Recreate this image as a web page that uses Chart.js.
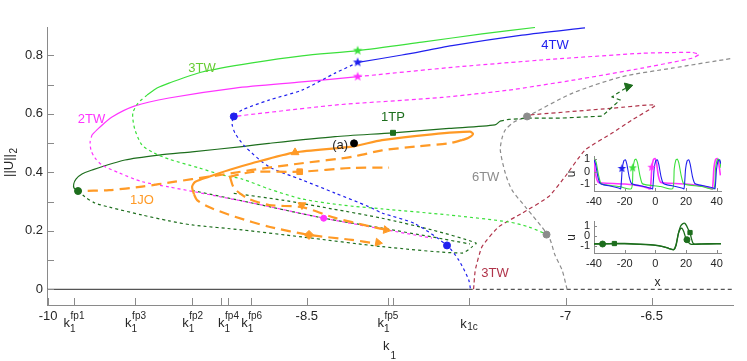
<!DOCTYPE html>
<html>
<head>
<meta charset="utf-8">
<script src="https://cdn.jsdelivr.net/npm/chart.js@4.4.1/dist/chart.umd.min.js"></script>
<style>
  body { margin: 0; background: #fff; }
  #wrap { position: relative; width: 747px; height: 361px; }
  #wrap canvas { position: absolute; }
</style>
</head>
<body>
<div id="wrap">
  <canvas id="main" width="747" height="361" style="left:0;top:0"></canvas>
  <canvas id="ins1" width="180" height="64" style="left:560px;top:146px"></canvas>
  <canvas id="ins2" width="180" height="80" style="left:560px;top:211px"></canvas>
</div>
<script>
// ---- main diagram data (k1, ||U||2) ----
// 3TW (green)
const tw3StabK = [-9.426, -9.368, -9.299, -9.107, -8.817, -8.528, -8.203, -7.832, -7.484, -7.177];
const tw3StabN = [0.664, 0.688, 0.705, 0.743, 0.774, 0.798, 0.816, 0.845, 0.873, 0.895];
const tw3UnstK = [-9.426, -9.478, -9.507, -9.509, -9.496, -9.455, -9.386, -9.299, -9.125, -8.991, -8.875, -8.719, -8.528, -8.296, -8.064, -7.675, -7.328, -7.212, -7.113];
const tw3UnstN = [0.664, 0.637, 0.606, 0.586, 0.545, 0.493, 0.466, 0.445, 0.415, 0.391, 0.377, 0.343, 0.309, 0.288, 0.275, 0.254, 0.230, 0.213, 0.189];
// 2TW (magenta)
const tw2StabK = [-9.745, -9.706, -9.629, -9.496, -9.299, -8.916, -8.528, -8.203];
const tw2StabN = [0.528, 0.551, 0.589, 0.627, 0.654, 0.688, 0.709, 0.727];
const tw2LowK = [-9.745, -9.756, -9.751, -9.728, -9.687, -9.588, -9.455, -9.299, -9.148, -8.817, -8.400, -8.064, -7.774];
const tw2LowN = [0.528, 0.504, 0.476, 0.449, 0.425, 0.398, 0.368, 0.350, 0.333, 0.295, 0.243, 0.206, 0.175];
const tw2UpK = [-8.203, -7.658, -7.136, -6.557, -6.267, -6.226, -6.267, -6.557, -6.945, -7.328, -7.716, -8.336, -8.923];
const tw2UpN = [0.727, 0.759, 0.784, 0.807, 0.810, 0.803, 0.790, 0.756, 0.716, 0.681, 0.656, 0.630, 0.591];
// 4TW (blue)
const tw4StabK = [-8.203, -7.948, -7.658, -7.252, -6.887];
const tw4StabN = [0.776, 0.801, 0.833, 0.869, 0.894];
const tw4UnstK = [-8.203, -8.336, -8.528, -8.719, -8.875, -8.923, -8.933, -8.916, -8.858, -8.719, -8.528, -8.336, -8.139, -8.064, -7.872, -7.687, -7.619, -7.561, -7.551];
const tw4UnstN = [0.776, 0.739, 0.681, 0.647, 0.613, 0.591, 0.565, 0.534, 0.488, 0.419, 0.374, 0.329, 0.282, 0.261, 0.224, 0.150, 0.100, 0.032, 0];
// 1TP (dark green)
const tp1StabK = [-9.826, -9.849, -9.851, -9.838, -9.803, -9.745, -9.554, -9.357, -9.165, -8.875, -8.719, -8.336, -8.000, -7.675, -7.409, -7.380];
const tp1StabN = [0.336, 0.346, 0.360, 0.377, 0.394, 0.408, 0.442, 0.459, 0.470, 0.488, 0.499, 0.522, 0.535, 0.550, 0.562, 0.575];
const tp1RightK = [-7.380, -7.328, -7.223, -7.038, -6.788, -6.730, -6.684, -6.730, -6.684, -6.649];
const tp1RightN = [0.575, 0.581, 0.585, 0.585, 0.592, 0.623, 0.647, 0.658, 0.676, 0.688];
const tp1LowK = [-9.826, -9.786, -9.728, -9.646, -9.455, -9.299, -9.165, -8.875, -8.528, -8.064, -7.600, -7.542, -7.519, -7.774, -8.064, -8.354, -8.643, -8.933];
const tp1LowN = [0.336, 0.316, 0.295, 0.281, 0.254, 0.234, 0.220, 0.203, 0.179, 0.146, 0.124, 0.145, 0.158, 0.203, 0.243, 0.275, 0.305, 0.329];
const tp1MidK = [-9.165, -8.817, -8.400, -8.064, -7.774, -7.554];
const tp1MidN = [0.338, 0.295, 0.243, 0.209, 0.179, 0.155];
// 3TW (dark red) and 6TW (grey)
const tw3rK = [-7.533, -7.523, -7.484, -7.387, -7.252, -7.097, -7.003, -6.887, -6.730, -6.614, -6.479, -6.730, -7.213];
const tw3rN = [0, 0.066, 0.146, 0.214, 0.260, 0.317, 0.385, 0.476, 0.534, 0.579, 0.630, 0.619, 0.596];
const tw6K = [-6.991, -7.020, -7.061, -7.097, -7.233, -7.310, -7.349, -7.378, -7.368, -7.349, -7.299, -7.223, -6.962, -6.672, -6.383, -6.030];
const tw6N = [0, 0.066, 0.117, 0.180, 0.282, 0.339, 0.397, 0.476, 0.517, 0.545, 0.572, 0.591, 0.670, 0.727, 0.756, 0.790];
// 1JO (orange)
const joSolidK = [-9.154, -9.165, -9.148, -9.067, -8.951, -8.817, -8.568, -8.238, -8.064, -7.774, -7.554, -7.536, -7.565, -7.600];
const joSolidN = [0.325, 0.350, 0.367, 0.385, 0.408, 0.431, 0.468, 0.488, 0.510, 0.530, 0.539, 0.531, 0.517, 0.510];
const joUpK = [-7.600, -7.677, -7.872, -8.064, -8.238, -8.528, -8.817, -9.067, -9.264, -9.455, -9.646, -9.826];
const joUpN = [0.510, 0.499, 0.488, 0.475, 0.453, 0.431, 0.408, 0.385, 0.368, 0.351, 0.339, 0.336];
const joMidK = [-8.951, -8.817, -8.539, -8.238, -8.023];
const joMidN = [0.384, 0.401, 0.402, 0.415, 0.416];
const joLow1K = [-9.154, -9.136, -9.067, -8.916, -8.719, -8.487, -8.238, -8.104];
const joLow1N = [0.325, 0.305, 0.281, 0.248, 0.214, 0.186, 0.169, 0.157];
const joLow2K = [-8.945, -8.922, -8.846, -8.719, -8.528, -8.336, -8.139, -8.035];
const joLow2N = [0.384, 0.346, 0.312, 0.288, 0.281, 0.244, 0.216, 0.203];
// trivial state
const zeroSolidK = [-10.006, -7.561];
const zeroDashK = [-7.561, -6.029];

// axis ticks
const xNumTicks = [-10, -8.5, -7, -6.5];
const xPlainTicks = [-8.997, -8.002];
const kTickPos = [-9.851, -9.494, -9.163, -8.955, -8.821, -8.031];
const kTickSup = ['fp1', 'fp3', 'fp2', 'fp4', 'fp6', 'fp5'];
const k1cPos = -7.561;
const yTickVals = [0, 0.1, 0.2, 0.3, 0.4, 0.5, 0.6, 0.7, 0.8];
const yTickText = ['0', '', '0.2', '', '0.4', '', '0.6', '', '0.8'];

// curve labels
const labelText = ['3TW', '2TW', '4TW', '1TP', '1JO', '6TW', '3TW', '(a)'];
const labelK = [-9.107, -9.748, -7.061, -8.000, -9.455, -7.463, -7.409, -8.306];
const labelN = [0.756, 0.582, 0.833, 0.588, 0.305, 0.383, 0.055, 0.493];

// ---- inset data (x, u) ----
const ins1BlueX = [-40, -39, -37.5, -36, -34, -28, -24, -22.6, -21.6, -20.6, -19.6, -18.6, -17.1, -15.6, -13.6, -7.6, -3.6, -1.8, -0.8, 0.2, 1.2, 2.2, 3.7, 5.2, 7.2, 13.2, 17.2, 18.7, 19.7, 20.7, 21.7, 22.7, 24.2, 25.7, 27.7, 33.7, 37.7, 38.9, 39.9, 40.9, 41.9, 42.8];
const ins1BlueU = [0.95, 0.6, -0.4, -0.95, -1.05, -1.2, -1.32, -1.38, 0.2, 0.85, 0.95, 0.6, -0.4, -0.95, -1.05, -1.2, -1.32, -1.38, 0.2, 0.85, 0.95, 0.6, -0.4, -0.95, -1.05, -1.2, -1.32, -1.38, 0.2, 0.85, 0.95, 0.6, -0.4, -0.95, -1.05, -1.2, -1.32, -1.38, 0.2, 0.85, 0.95, 0.6];
const ins1GreenX = [-40, -39.5, -38.5, -37, -35.5, -33.5, -23.5, -15.6, -14.6, -13.6, -12.6, -11.6, -10.1, -8.6, -6.6, 3.4, 11.3, 12.3, 13.3, 14.3, 15.3, 16.8, 18.3, 20.3, 30.3, 38.2, 39.2, 40.2, 41.2, 42.2, 42.8];
const ins1GreenU = [0.95, 1.0, 0.7, -0.3, -0.95, -1.05, -1.2, -1.38, 0.2, 0.9, 1.0, 0.7, -0.3, -0.95, -1.05, -1.2, -1.38, 0.2, 0.9, 1.0, 0.7, -0.3, -0.95, -1.05, -1.2, -1.38, 0.2, 0.9, 1.0, 0.7, 0.3];
const ins1MagX = [-40, -38.8, -37.3, -34.3, -20, -10, -5.3, -3.3, -2.3, -1.3, -0.3, 0.7, 1.9, 3.4, 6.4, 20, 30, 35.2, 37.2, 38.2, 39.2, 40.2, 41.2, 42.4];
const ins1MagU = [0.75, -0.3, -0.85, -0.92, -1.0, -1.15, -1.3, -1.38, 0.3, 0.95, 1.05, 0.75, -0.3, -0.85, -0.92, -1.0, -1.15, -1.3, -1.38, 0.3, 0.95, 1.05, 0.75, -0.3];
const ins2AX = [-40, -30, -20, -10, 0, 5, 9, 12, 13.5, 15, 16.5, 18, 19.2, 20.3, 21.5, 22.6, 23.5, 24.5, 26, 30, 40, 42.8];
const ins2AU = [-0.82, -0.8, -0.78, -0.85, -0.95, -1.1, -1.3, -1.42, -1.0, 0.2, 0.95, 1.2, 1.22, 1.0, 0.6, 0.3, -0.3, -0.75, -0.85, -0.83, -0.8, -0.8];
const ins2BX = [-40, -30, -20, -10, 0, 5, 9, 12, 13.5, 15, 16.2, 17.2, 18.5, 19.5, 20.6, 22, 23.5, 25, 30, 40, 42.8];
const ins2BU = [-0.86, -0.84, -0.83, -0.88, -0.98, -1.12, -1.3, -1.4, -0.9, 0.2, 0.65, 0.75, 0.4, -0.1, -0.42, -0.75, -0.88, -0.88, -0.86, -0.84, -0.84];
const insXTicks = [-40, -20, 0, 20, 40];
const insYTicks = [-1, 0, 1];

// colours
const GREEN = '#3be03b', MAG = '#ff33ff', BLUE = '#2020ee', DKGREEN = '#1d6e1d';
const ORANGE = '#ff9a26', DKRED = '#b0344a', GREY = '#8c8c8c';
const FONT = "'Liberation Sans', Arial, Helvetica, sans-serif";
const TXT = '#262626', AXIS = '#8a8a8a';

const pts = (xs, ys) => xs.map((x, i) => ({ x: x, y: ys[i] }));

function curve(xs, ys, color, dash, width, tension) {
  return {
    data: pts(xs, ys), showLine: true, borderColor: color, backgroundColor: color,
    borderWidth: width || 1, borderDash: dash || [], pointRadius: 0,
    tension: tension === undefined ? 0.25 : tension, fill: false
  };
}

function marker(x, y, color, style, radius, rotation) {
  return {
    data: [{ x: x, y: y }], showLine: false, pointStyle: style || 'circle',
    pointRadius: radius || 3.5, pointRotation: rotation || 0,
    backgroundColor: color, borderColor: color, borderWidth: 1
  };
}

// filled five-point star as point image
function starImg(color, r) {
  const c = document.createElement('canvas');
  const s = Math.ceil(r * 2 + 2);
  c.width = s; c.height = s;
  const g = c.getContext('2d');
  g.fillStyle = color;
  g.beginPath();
  for (let i = 0; i < 10; i++) {
    const a = -Math.PI / 2 + i * Math.PI / 5;
    const rr = i % 2 ? r * 0.42 : r;
    g.lineTo(s / 2 + rr * Math.cos(a), s / 2 + rr * Math.sin(a));
  }
  g.closePath();
  g.fill();
  return c;
}

// ticks drawn inside the axes
const inwardTicks = {
  id: 'inwardTicks',
  afterDraw(chart, args, opts) {
    const { ctx, chartArea: a, scales } = chart;
    ctx.save();
    ctx.strokeStyle = AXIS;
    ctx.lineWidth = 1;
    ctx.beginPath();
    scales.x.ticks.forEach(t => {
      const p = Math.round(scales.x.getPixelForValue(t.value)) + 0.5;
      ctx.moveTo(p, a.bottom); ctx.lineTo(p, a.bottom - opts.len);
    });
    scales.y.ticks.forEach(t => {
      const p = Math.round(scales.y.getPixelForValue(t.value)) + 0.5;
      ctx.moveTo(a.left, p); ctx.lineTo(a.left + opts.len, p);
    });
    ctx.stroke();
    ctx.restore();
  }
};

// text drawn on the main diagram: curve names, k1 tick labels, axis titles
const mainText = {
  id: 'mainText',
  afterDraw(chart) {
    const { ctx, scales } = chart;
    const xs = scales.x, ys = scales.y;
    ctx.save();
    const labelColor = [ '#66cc33', MAG, BLUE, DKGREEN, ORANGE, GREY, DKRED, TXT ];
    ctx.font = '13px ' + FONT;
    ctx.textAlign = 'center';
    ctx.textBaseline = 'middle';
    labelText.forEach((t, i) => {
      ctx.fillStyle = labelColor[i];
      ctx.fillText(t, xs.getPixelForValue(labelK[i]), ys.getPixelForValue(labelN[i]));
    });

    ctx.fillStyle = TXT;
    ctx.textBaseline = 'alphabetic';
    ctx.textAlign = 'left';
    kTickPos.forEach((v, i) => {
      const px = xs.getPixelForValue(v);
      ctx.font = '13px ' + FONT;
      const kw = ctx.measureText('k').width;
      ctx.font = '10px ' + FONT;
      const sw = ctx.measureText(kTickSup[i]).width;
      const x0 = px - (kw + sw) / 2;
      ctx.font = '13px ' + FONT;
      ctx.fillText('k', x0, 326.5);
      ctx.font = '10px ' + FONT;
      ctx.fillText(kTickSup[i], x0 + kw + 0.5, 318.5);
      ctx.fillText('1', x0 + kw, 331.5);
    });
    // k_1c
    {
      const px = xs.getPixelForValue(k1cPos);
      ctx.font = '13px ' + FONT;
      const kw = ctx.measureText('k').width;
      ctx.font = '10px ' + FONT;
      const sw = ctx.measureText('1c').width;
      const x0 = px - (kw + sw) / 2;
      ctx.font = '13px ' + FONT;
      ctx.fillText('k', x0, 327.5);
      ctx.font = '10px ' + FONT;
      ctx.fillText('1c', x0 + kw + 0.5, 330);
    }
    // x title
    ctx.font = '13px ' + FONT;
    ctx.fillText('k', 383, 349.5);
    ctx.font = '10px ' + FONT;
    ctx.fillText('1', 390.5, 358.5);
    // y title
    ctx.translate(12.5, 177);
    ctx.rotate(-Math.PI / 2);
    ctx.font = '13px ' + FONT;
    ctx.fillText('||U||', 0, 0);
    const w = ctx.measureText('||U||').width;
    ctx.font = '10px ' + FONT;
    ctx.fillText('2', w + 0.5, 4.5);
    ctx.restore();
  }
};

const datasets = [
  // markers on top
  marker(-8.205, 0.816, GREEN, starImg(GREEN, 5)),
  marker(-8.205, 0.776, BLUE, starImg(BLUE, 5)),
  marker(-8.205, 0.727, MAG, starImg(MAG, 5)),
  marker(-8.923, 0.591, BLUE, 'circle', 3.5),
  marker(-7.687, 0.150, BLUE, 'circle', 3.5),
  marker(-8.402, 0.243, MAG, 'circle', 3),
  marker(-7.223, 0.591, GREY, 'circle', 3.5),
  marker(-7.110, 0.187, GREY, 'circle', 3.5),
  marker(-9.826, 0.336, DKGREEN, 'circle', 3.5),
  marker(-8.000, 0.535, DKGREEN, 'rect', 3.5),
  marker(-6.638, 0.693, DKGREEN, 'triangle', 5, 75),
  marker(-8.226, 0.499, '#000000', 'circle', 3.5),
  marker(-8.568, 0.468, ORANGE, 'triangle', 4.5),
  marker(-8.541, 0.402, ORANGE, 'rect', 4),
  marker(-8.528, 0.288, ORANGE, 'triangle', 4.5, 180),
  marker(-8.487, 0.186, ORANGE, 'rectRot', 4.5),
  marker(-8.087, 0.160, ORANGE, 'triangle', 4.5, 100),
  marker(-8.040, 0.203, ORANGE, 'triangle', 4.5, 100),
  // branches
  curve(joSolidK, joSolidN, ORANGE, [], 2.2),
  curve(joUpK, joUpN, ORANGE, [10, 6], 2.2),
  curve(joMidK, joMidN, ORANGE, [10, 6], 2.2),
  curve(joLow1K, joLow1N, ORANGE, [10, 6], 2.2),
  curve(joLow2K, joLow2N, ORANGE, [10, 6], 2.2),
  curve(tw3StabK, tw3StabN, GREEN, [], 1.2),
  curve(tw3UnstK, tw3UnstN, GREEN, [3, 3], 1.2),
  curve(tw4StabK, tw4StabN, BLUE, [], 1.2),
  curve(tw4UnstK, tw4UnstN, BLUE, [3, 3], 1.2),
  curve(tw2StabK, tw2StabN, MAG, [], 1.2),
  curve(tw2LowK, tw2LowN, MAG, [3, 3], 1.2),
  curve(tw2UpK, tw2UpN, MAG, [4, 3], 1.2, 0.15),
  curve(tp1StabK, tp1StabN, DKGREEN, [], 1.2),
  curve(tp1RightK, tp1RightN, DKGREEN, [4, 3], 1.2, 0),
  curve(tp1LowK, tp1LowN, DKGREEN, [3, 3], 1.2),
  curve(tp1MidK, tp1MidN, DKGREEN, [3, 3], 1.2),
  curve(tw3rK, tw3rN, DKRED, [4, 3], 1.2, 0.15),
  curve(tw6K, tw6N, GREY, [4, 3], 1.2),
  curve(zeroSolidK, [0, 0], '#555555', [], 1.2, 0),
  curve(zeroDashK, [0, 0], '#555555', [4, 3], 1.2, 0)
];

new Chart(document.getElementById('main'), {
  type: 'scatter',
  data: { datasets: datasets },
  options: {
    responsive: false,
    animation: false,
    events: [],
    layout: { padding: { top: 27, right: 14, left: 0, bottom: 0 } },
    plugins: { legend: { display: false }, tooltip: { enabled: false }, inwardTicks: { len: 7 } },
    scales: {
      x: {
        type: 'linear', min: -10.006, max: -6.029,
        afterFit(s) { s.height = 56; },
        afterBuildTicks(s) {
          s.ticks = xNumTicks.concat(xPlainTicks, kTickPos, [k1cPos]).map(v => ({ value: v }));
        },
        ticks: {
          autoSkip: false, maxRotation: 0, padding: 4, color: TXT,
          font: { family: FONT, size: 13 },
          callback(v) { return xNumTicks.includes(v) ? String(v) : ''; }
        },
        grid: { display: false, drawTicks: false },
        border: { display: true, color: AXIS, width: 1 }
      },
      y: {
        type: 'linear', min: -0.0537, max: 0.8968,
        afterFit(s) { s.width = 47; },
        afterBuildTicks(s) { s.ticks = yTickVals.map(v => ({ value: v })); },
        ticks: {
          autoSkip: false, padding: 4, color: TXT,
          font: { family: FONT, size: 13 },
          callback(v) { const i = yTickVals.findIndex(t => Math.abs(t - v) < 1e-6); return i >= 0 ? yTickText[i] : ''; }
        },
        grid: { display: false, drawTicks: false },
        border: { display: true, color: AXIS, width: 1 }
      }
    }
  },
  plugins: [inwardTicks, mainText]
});

// ---- insets ----
function insetText(showX) {
  return {
    id: 'insetText',
    afterDraw(chart) {
      const { ctx, chartArea: a } = chart;
      ctx.save();
      ctx.fillStyle = TXT;
      ctx.font = '12px ' + FONT;
      ctx.textAlign = 'center';
      ctx.textBaseline = 'middle';
      if (showX) ctx.fillText('x', (a.left + a.right) / 2, 72);
      ctx.translate(11.5, (a.top + a.bottom) / 2);
      ctx.rotate(-Math.PI / 2);
      ctx.fillText('u', 0, 0);
      ctx.restore();
    }
  };
}

function insetOptions(yMin, yMax, padTop, xHeight) {
  return {
    responsive: false,
    animation: false,
    events: [],
    layout: { padding: { top: padTop, right: 19, left: 0, bottom: 0 } },
    plugins: { legend: { display: false }, tooltip: { enabled: false }, inwardTicks: { len: 3 } },
    scales: {
      x: {
        type: 'linear', min: -40, max: 42.8,
        afterFit(s) { s.height = xHeight; },
        afterBuildTicks(s) { s.ticks = insXTicks.map(v => ({ value: v })); },
        ticks: { autoSkip: false, maxRotation: 0, padding: 4, color: TXT, font: { family: FONT, size: 11 } },
        grid: { display: false, drawTicks: false },
        border: { display: true, color: AXIS, width: 1 }
      },
      y: {
        type: 'linear', min: yMin, max: yMax,
        afterFit(s) { s.width = 34; },
        afterBuildTicks(s) { s.ticks = insYTicks.map(v => ({ value: v })); },
        ticks: { autoSkip: false, padding: 4, color: TXT, font: { family: FONT, size: 11 } },
        grid: { display: false, drawTicks: false },
        border: { display: true, color: AXIS, width: 1 }
      }
    }
  };
}

new Chart(document.getElementById('ins1'), {
  type: 'scatter',
  data: {
    datasets: [
      marker(-21.8, 0.25, BLUE, starImg(BLUE, 4.5)),
      marker(-14.8, 0.3, GREEN, starImg(GREEN, 4.5)),
      marker(-2.4, 0.35, MAG, starImg(MAG, 4.5)),
      curve(ins1BlueX, ins1BlueU, BLUE, [], 1.1, 0.2),
      curve(ins1GreenX, ins1GreenU, GREEN, [], 1.1, 0.2),
      curve(ins1MagX, ins1MagU, MAG, [], 1.6, 0.2)
    ]
  },
  options: insetOptions(-1.56, 1.2, 7, 19),
  plugins: [inwardTicks, insetText(false)]
});

new Chart(document.getElementById('ins2'), {
  type: 'scatter',
  data: {
    datasets: [
      marker(-34.4, -0.85, DKGREEN, 'circle', 3),
      marker(-26.7, -0.8, DKGREEN, 'rect', 3),
      marker(20.6, -0.42, DKGREEN, 'circle', 3),
      marker(22.6, 0.3, DKGREEN, 'rect', 3),
      curve(ins2AX, ins2AU, DKGREEN, [], 1.3, 0.2),
      curve(ins2BX, ins2BU, DKGREEN, [], 1.3, 0.2)
    ]
  },
  options: insetOptions(-1.75, 1.4, 5.5, 38),
  plugins: [inwardTicks, insetText(true)]
});
</script>
</body>
</html>
